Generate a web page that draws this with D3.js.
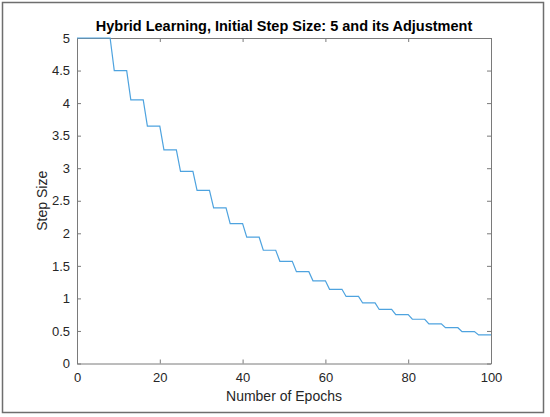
<!DOCTYPE html>
<html lang="en">
<head>
    <meta charset="UTF-8">
    <title>Hybrid Learning Step Size</title>
    <script src="https://d3js.org/d3.v7.min.js"></script>
    <style>
        body { margin: 0; background: #fff; }
        svg { display: block; font-family: Arial, "Liberation Sans", Helvetica, sans-serif; }
        .axis path, .axis line { stroke: #7a7a7a; }
        .axis text { fill: #262626; font-size: 13px; }
    </style>
</head>
<body>
    <div id="chart"></div>

    <script>
        // step levels: epoch where each level starts / ends, and its value
        var levelStart = [0, 9, 13, 17, 21, 25, 29, 33, 37, 41, 45, 49, 53, 57, 61, 65, 69, 73, 77, 81, 85, 89, 93, 97];
        var levelEnd   = [8, 12, 16, 20, 24, 28, 32, 36, 40, 44, 48, 52, 56, 60, 64, 68, 72, 76, 80, 84, 88, 92, 96, 100];
        var stepValues = [5, 4.5, 4.05, 3.645, 3.28, 2.95, 2.66, 2.39, 2.15, 1.94, 1.74, 1.57, 1.41, 1.27,
                          1.14, 1.03, 0.93, 0.83, 0.75, 0.68, 0.61, 0.55, 0.49, 0.44];
        var xTicks = [0, 20, 40, 60, 80, 100];
        var yTicks = [0, 0.5, 1, 1.5, 2, 2.5, 3, 3.5, 4, 4.5, 5];

        var width = 550, height = 417;
        var margin = {top: 38, right: 59, bottom: 53.5, left: 77};
        var w = width - margin.left - margin.right,
            h = height - margin.top - margin.bottom;

        var svg = d3.select("#chart").append("svg")
            .attr("width", width)
            .attr("height", height);

        // figure frame
        svg.append("rect")
            .attr("x", 2.5).attr("y", 2.5)
            .attr("width", 541).attr("height", 410)
            .attr("fill", "none")
            .attr("stroke", "#6e6e6e")
            .attr("stroke-width", 1.5);

        var g = svg.append("g")
            .attr("transform", "translate(" + margin.left + "," + margin.top + ")");

        var x = d3.scaleLinear().domain([0, 100]).range([0, w]);
        var y = d3.scaleLinear().domain([0, 5]).range([h, 0]);

        // build the staircase vertices from the level arrays
        var pts = [];
        stepValues.forEach(function(v, i) {
            pts.push([levelStart[i], v]);
            pts.push([levelEnd[i], v]);
        });

        // axes, ticks pointing inward on all four sides
        g.append("g").attr("class", "axis")
            .attr("transform", "translate(0," + h + ")")
            .call(d3.axisBottom(x).tickValues(xTicks).tickSizeInner(-4).tickSizeOuter(0).tickPadding(9));
        g.append("g").attr("class", "axis")
            .call(d3.axisTop(x).tickValues(xTicks).tickSizeInner(-4).tickSizeOuter(0).tickFormat(""));
        g.append("g").attr("class", "axis")
            .call(d3.axisLeft(y).tickValues(yTicks).tickSizeInner(-4).tickSizeOuter(0).tickPadding(7)
                .tickFormat(d3.format("~g")));
        g.append("g").attr("class", "axis")
            .attr("transform", "translate(" + w + ",0)")
            .call(d3.axisRight(y).tickValues(yTicks).tickSizeInner(-4).tickSizeOuter(0).tickFormat(""));

        g.selectAll(".axis .domain").attr("stroke-width", 1);

        var line = d3.line()
            .x(function(d) { return x(d[0]); })
            .y(function(d) { return y(d[1]); });

        g.append("path")
            .datum(pts)
            .attr("d", line)
            .attr("fill", "none")
            .attr("stroke", "#4ea3df")
            .attr("stroke-width", 1.2);

        // title and labels
        svg.append("text")
            .attr("x", margin.left + w / 2).attr("y", 31)
            .attr("text-anchor", "middle")
            .style("font-size", "14.5px").style("font-weight", "bold").style("fill", "#000")
            .text("Hybrid Learning, Initial Step Size: 5 and its Adjustment");

        svg.append("text")
            .attr("x", margin.left + w / 2).attr("y", 401)
            .attr("text-anchor", "middle")
            .style("font-size", "14px").style("fill", "#262626")
            .text("Number of Epochs");

        svg.append("text")
            .attr("transform", "translate(47," + (margin.top + h / 2) + ") rotate(-90)")
            .attr("text-anchor", "middle")
            .style("font-size", "14px").style("fill", "#262626")
            .text("Step Size");
    </script>
</body>
</html>
